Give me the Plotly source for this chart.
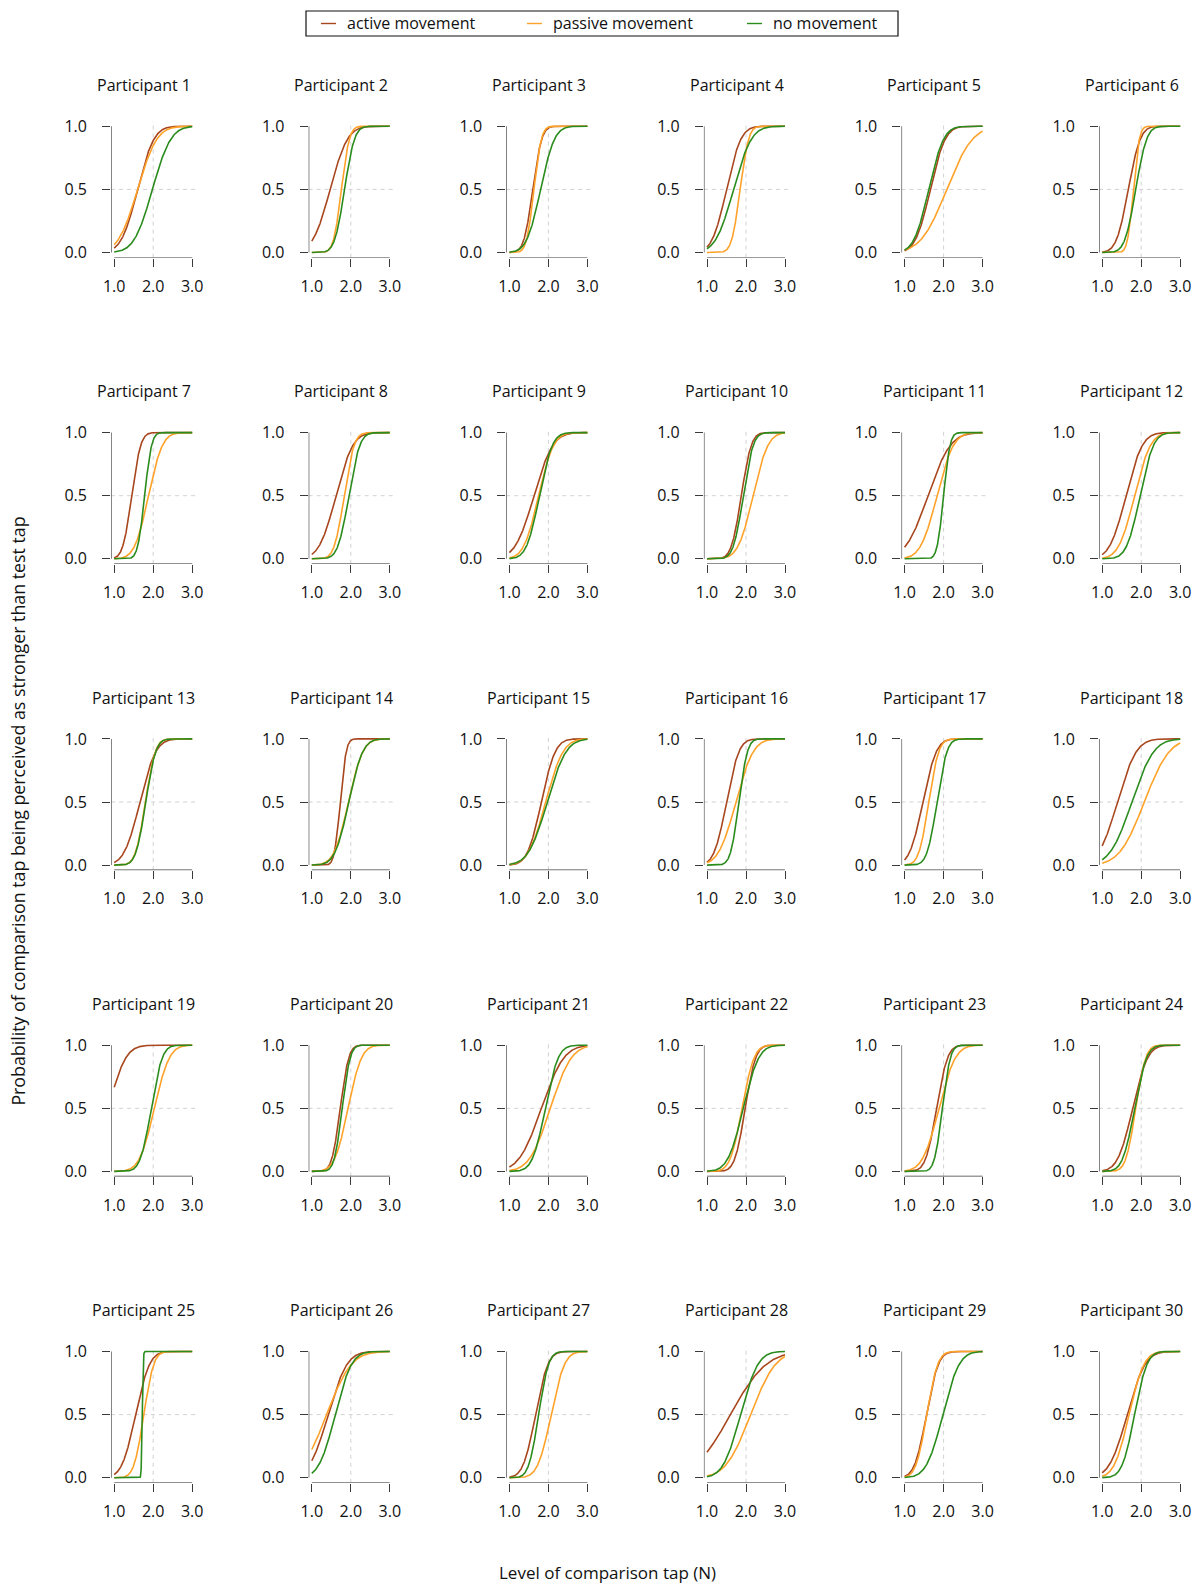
import math
import numpy as np
import plotly.graph_objects as go

# ---------------- data ----------------
participants = [f"Participant {i}" for i in range(1, 31)]
conditions = ["active movement", "passive movement", "no movement"]

# fitted cumulative-normal psychometric functions: point of subjective equality (N) and spread (N)
active_pse = [1.60, 1.47, 1.60, 1.50, 1.66, 1.67, 1.45, 1.62, 1.63, 1.88,
              1.60, 1.61, 1.66, 1.73, 1.82, 1.50, 1.47, 1.39, 0.85, 1.73,
              1.82, 1.98, 1.82, 1.78, 1.55, 1.42, 1.67, 1.60, 1.56, 1.64]
active_sd = [0.33, 0.35, 0.18, 0.29, 0.30, 0.24, 0.18, 0.34, 0.38, 0.20,
             0.45, 0.33, 0.32, 0.12, 0.28, 0.25, 0.27, 0.38, 0.35, 0.17,
             0.45, 0.21, 0.22, 0.30, 0.28, 0.38, 0.25, 0.72, 0.24, 0.36]
passive_pse = [1.60, 1.76, 1.63, 1.85, 2.08, 1.80, 1.88, 1.83, 1.75, 2.18,
               1.83, 1.83, 1.80, 1.94, 1.93, 1.74, 1.62, 2.08, 2.03, 1.93,
               2.05, 1.90, 1.88, 1.86, 1.76, 1.38, 2.07, 2.12, 1.57, 1.69]
passive_sd = [0.39, 0.16, 0.15, 0.17, 0.52, 0.12, 0.28, 0.20, 0.30, 0.30,
              0.33, 0.32, 0.20, 0.29, 0.35, 0.35, 0.20, 0.50, 0.30, 0.27,
              0.42, 0.24, 0.33, 0.20, 0.20, 0.50, 0.27, 0.50, 0.22, 0.30]
none_pse = [1.98, 1.84, 1.80, 1.68, 1.62, 1.86, 1.78, 1.95, 1.77, 1.93,
            2.00, 1.97, 1.81, 1.95, 1.97, 1.82, 1.83, 1.76, 1.95, 1.78,
            1.92, 1.93, 1.97, 1.83, 1.72, 1.60, 1.75, 1.86, 1.98, 1.83]
none_sd = [0.37, 0.20, 0.28, 0.36, 0.30, 0.22, 0.14, 0.22, 0.26, 0.20,
           0.13, 0.27, 0.20, 0.28, 0.38, 0.17, 0.20, 0.44, 0.22, 0.16,
           0.26, 0.31, 0.16, 0.24, 0.02, 0.33, 0.20, 0.35, 0.33, 0.25]

x_ticks = [1, 2, 3]
x_tick_labels = ["1.0", "2.0", "3.0"]
y_ticks = [0, 0.5, 1]
y_tick_labels = ["0.0", "0.5", "1.0"]

# ---------------- style ----------------
W, H = 1200, 1584
FONT = "Open Sans"
colors = {"active movement": "#A8461E", "passive movement": "#FFA229", "no movement": "#2B8C1E"}
AX_COL = "#3a3a3a"
PXU, PYU = 39.0, 126.2          # pixels per data unit
COL_X1 = [114.2 + 197.6 * c for c in range(6)]     # pixel of x = 1
ROW_Y1 = [126.3 + 306.3 * r for r in range(5)]     # pixel of y = 1

params = {
    "active movement": (active_pse, active_sd),
    "passive movement": (passive_pse, passive_sd),
    "no movement": (none_pse, none_sd),
}

xg = np.linspace(1, 3, 501)


def phi(x, mu, sd):
    return [0.5 * (1 + math.erf((v - mu) / (sd * math.sqrt(2)))) for v in x]


fig = go.Figure()
shapes = []
annotations = []
layout_axes = {}

for i, name in enumerate(participants):
    r, c = divmod(i, 6)
    n = i + 1
    xs = "" if n == 1 else str(n)
    xa, ya = f"x{xs}", f"y{xs}"
    x1 = COL_X1[c]
    y1 = ROW_Y1[r]
    y0 = y1 + PYU
    dom_x = [(x1 - 0.08 * PXU) / W, (x1 + 2.08 * PXU) / W]
    dom_y = [1 - (y0 + 0.04 * PYU) / H, 1 - (y1 - 0.04 * PYU) / H]
    layout_axes[f"xaxis{xs}"] = dict(
        domain=dom_x, range=[0.92, 3.08], anchor=ya, tickvals=x_ticks, ticktext=x_tick_labels,
        ticks="outside", ticklen=8, tickwidth=1.2, tickcolor=AX_COL, showline=False,
        showgrid=False, zeroline=False, automargin=False, fixedrange=True,
        tickfont=dict(family=FONT, size=16, color="#111"), ticklabelstandoff=6)
    layout_axes[f"yaxis{xs}"] = dict(
        domain=dom_y, range=[-0.04, 1.04], anchor=xa, tickvals=y_ticks, ticktext=y_tick_labels,
        ticks="outside", ticklen=8, tickwidth=1.2, tickcolor=AX_COL, showline=False,
        showgrid=False, zeroline=False, automargin=False, fixedrange=True,
        tickfont=dict(family=FONT, size=16, color="#111"), ticklabelstandoff=12)

    # reference lines
    shapes.append(dict(type="line", xref=xa, yref=f"{ya} domain", x0=2, x1=2, y0=0, y1=1,
                       line=dict(color="#d2d2d2", width=1, dash="4px,4px"), layer="below"))
    shapes.append(dict(type="line", xref=f"{xa} domain", yref=ya, x0=0, x1=1, y0=0.5, y1=0.5,
                       line=dict(color="#d2d2d2", width=1, dash="4px,4px"), layer="below"))
    # R-style axis lines spanning the tick range
    shapes.append(dict(type="line", xref=xa, yref=ya, x0=0.92, x1=0.92, y0=0, y1=1,
                       line=dict(color=AX_COL, width=1.2)))
    shapes.append(dict(type="line", xref=xa, yref=ya, x0=1, x1=3, y0=-0.04, y1=-0.04,
                       line=dict(color=AX_COL, width=1.2)))

    for cond in conditions:
        mu_l, sd_l = params[cond]
        fig.add_trace(go.Scatter(
            x=xg, y=phi(xg, mu_l[i], sd_l[i]), mode="lines", name=cond,
            legendgroup=cond, showlegend=False, xaxis=xa, yaxis=ya,
            line=dict(color=colors[cond], width=1.6), hoverinfo="skip"))

    annotations.append(dict(text=name, x=(x1 + 29.5) / W, y=1 - (85 + 306.3 * r) / H,
                            xref="paper", yref="paper", showarrow=False, xanchor="center",
                            yanchor="middle", font=dict(family=FONT, size=16, color="#111")))

# legend box (manual, R style)
shapes.append(dict(type="rect", xref="paper", yref="paper", x0=306 / W, x1=898 / W,
                   y0=1 - 36 / H, y1=1 - 11 / H, line=dict(color="#111", width=1.2)))
leg_line_x = [321, 527, 747]
leg_text_x = [345, 551, 771]
for k, cond in enumerate(conditions):
    shapes.append(dict(type="line", xref="paper", yref="paper",
                       x0=leg_line_x[k] / W, x1=(leg_line_x[k] + 15) / W,
                       y0=1 - 23.5 / H, y1=1 - 23.5 / H,
                       line=dict(color=colors[cond], width=1.4)))
    annotations.append(dict(text=cond, x=leg_text_x[k] / W, y=1 - 23.5 / H, xref="paper",
                            yref="paper", showarrow=False, xanchor="left", yanchor="middle",
                            font=dict(family=FONT, size=16, color="#111")))

# axis titles
annotations.append(dict(text="Level of comparison tap (N)", x=607 / W, y=1 - 1572 / H,
                        xref="paper", yref="paper", showarrow=False, xanchor="center",
                        yanchor="middle", font=dict(family=FONT, size=17, color="#111")))
annotations.append(dict(text="Probability of comparison tap being perceived as stronger than test tap",
                        x=18 / W, y=1 - 811.6 / H, xref="paper", yref="paper", showarrow=False,
                        textangle=-90, xanchor="center", yanchor="middle",
                        font=dict(family=FONT, size=17.8, color="#111")))

fig.update_layout(
    width=W, height=H, margin=dict(l=0, r=0, t=0, b=0), template="none",
    paper_bgcolor="white", plot_bgcolor="white", showlegend=False,
    shapes=shapes, annotations=annotations, **layout_axes)

fig.write_html("out.html", config={"displayModeBar": False},
               post_script="document.body.style.margin='0';document.body.style.overflow='hidden';")
